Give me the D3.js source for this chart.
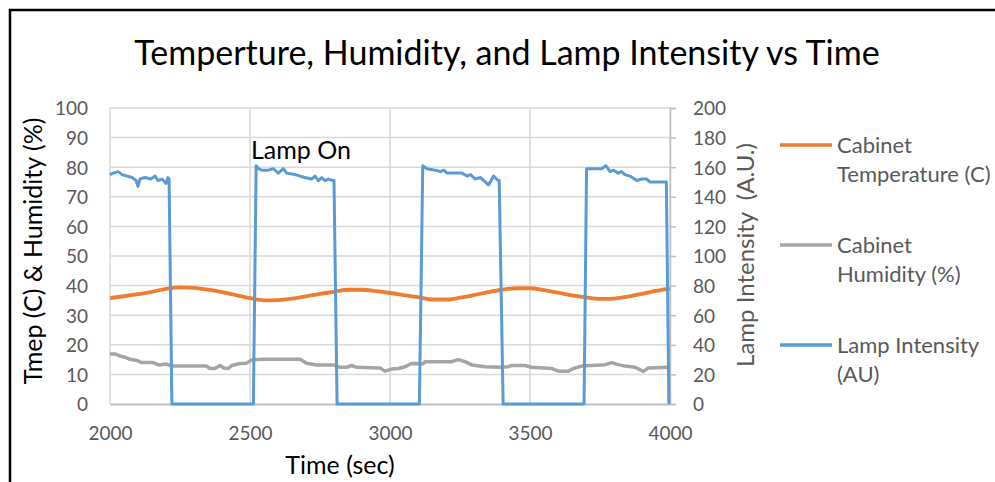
<!DOCTYPE html>
<html>
<head>
<meta charset="utf-8">
<style>
  body { margin: 0; background: #fff; }
  svg { font-family: Lato, "Open Sans", sans-serif; }
</style>
</head>
<body>
<svg width="995" height="482"></svg>
<script src="https://d3js.org/d3.v7.min.js"></script>
<script>

// Cabinet temperature (C), left axis
var tempTime = [2000,2050,2100,2150,2200,2250,2300,2350,2400,2450,2500,2550,2600,2650,2700,2750,2800,2850,2900,2950,
                3000,3050,3100,3150,3200,3250,3300,3350,3400,3450,3500,3550,3600,3650,3700,3750,3800,3850,3900,3950,4000];
var tempValues = [35.8,36.4,37.1,37.9,38.9,39.4,39.2,38.6,37.8,36.8,35.8,35.0,35.1,35.6,36.4,37.2,37.9,38.6,38.6,38.1,
                  37.5,36.8,36.1,35.3,35.3,35.9,36.8,37.8,38.6,39.1,39.1,38.5,37.6,36.7,36.0,35.5,35.6,36.3,37.2,38.2,39.1];

// Cabinet humidity (%), left axis
var humTime = [2000,2018,2036,2054,2071,2095,2113,2155,2173,2202,2220,2345,2357,2375,2393,2405,2423,2435,2464,2488,
               2506,2548,2679,2702,2738,2798,2821,2845,2863,2881,2964,2982,3006,3030,3054,3077,3119,3125,3220,3244,
               3268,3292,3339,3387,3423,3435,3482,3506,3577,3601,3637,3655,3685,3720,3768,3792,3815,3839,3875,3905,
               3923,4000];
var humValues = [16.9,16.9,16.2,15.8,15.1,14.7,14.0,14.0,13.2,13.5,12.8,12.8,12.0,12.0,13.0,12.2,12.0,13.0,13.7,13.8,
                 14.9,15.1,15.1,13.8,13.2,13.2,12.4,12.4,13.0,12.4,12.2,11.1,11.8,12.0,12.6,13.7,13.6,14.3,14.3,15.0,
                 14.3,13.2,12.6,12.4,12.6,13.0,13.0,12.4,12.0,11.1,11.1,12.0,12.8,13.0,13.3,14.0,13.3,12.8,12.4,11.0,
                 12.2,12.4];

// Lamp intensity (A.U.), right axis
var lampTime = [2000,2011,2029,2043,2061,2079,2093,2100,2107,2125,2146,2161,2171,2186,2200,2207,2211,2221,
                2512,2522,2530,2542,2565,2583,2601,2619,2631,2661,2696,2720,2732,2744,2756,2768,2780,2795,2800,2811,
                3105,3117,3132,3162,3180,3192,3204,3221,3257,3275,3287,3305,3323,3335,3352,3370,3386,3390,3404,
                3693,3702,3738,3756,3771,3786,3798,3815,3827,3839,3857,3881,3899,3917,3929,3952,3982,3987,3996];
var lampValues = [155,156,157,155,154,153,151,147,152,153,152,154,151,152,149,153,152,0,
                  0,161,159,158,158,159,156,159,156,155,153,152,154,151,153,151,152,151,151,0,
                  0,161,159,158,157,158,156,156,156,154,155,152,153,151,148,154,151,151,0,
                  0,159,159,159,161,157,158,156,157,155,154,151,152,152,150,150,150,150,0];

var xTicks = [2000,2500,3000,3500,4000];
var leftTicks = [0,10,20,30,40,50,60,70,80,90,100];
var rightTicks = [0,20,40,60,80,100,120,140,160,180,200];

var seriesNames = ["Cabinet|Temperature (C)", "Cabinet|Humidity (%)", "Lamp Intensity|(AU)"];
var seriesColors = ["#ed7d31", "#a5a5a5", "#5b9bd5"];

var svg = d3.select("svg");
var plotLeft = 110, plotRight = 670, plotTop = 108, plotBottom = 404;

var x = d3.scaleLinear().domain([2000, 4000]).range([plotLeft, plotRight]);
var yL = d3.scaleLinear().domain([0, 100]).range([plotBottom, plotTop]);
var yR = d3.scaleLinear().domain([0, 200]).range([plotBottom, plotTop]);

// frame
svg.append("rect")
    .attr("x", 10).attr("y", 10).attr("width", 1000).attr("height", 500)
    .attr("fill", "none").attr("stroke", "#000").attr("stroke-width", 2.5);

svg.append("text")
    .attr("x", 507).attr("y", 65)
    .attr("text-anchor", "middle")
    .attr("font-size", 34)
    .attr("fill", "#000")
    .text("Temperture, Humidity, and Lamp Intensity vs Time");

// gridlines
svg.append("g").selectAll("line")
    .data(leftTicks.slice(1))
    .enter().append("line")
      .attr("x1", plotLeft).attr("x2", plotRight)
      .attr("y1", function(d) { return yL(d); })
      .attr("y2", function(d) { return yL(d); })
      .attr("stroke", "#d9d9d9").attr("stroke-width", 1.5);

svg.append("g").selectAll("line")
    .data(xTicks)
    .enter().append("line")
      .attr("x1", function(d) { return x(d); })
      .attr("x2", function(d) { return x(d); })
      .attr("y1", plotTop).attr("y2", plotBottom)
      .attr("stroke", "#d9d9d9").attr("stroke-width", 1.5);

// axes
var bottomAxis = svg.append("g")
    .attr("transform", "translate(0," + plotBottom + ")")
    .call(d3.axisBottom(x).tickValues(xTicks).tickSize(0).tickPadding(23).tickFormat(d3.format("d")));
bottomAxis.select(".domain").attr("stroke", "#bfbfbf").attr("stroke-width", 2);

var leftAxis = svg.append("g")
    .attr("transform", "translate(" + plotLeft + ",0)")
    .call(d3.axisLeft(yL).tickValues(leftTicks).tickSize(0).tickPadding(22));
leftAxis.select(".domain").remove();

var rightAxis = svg.append("g")
    .attr("transform", "translate(" + plotRight + ",0)")
    .call(d3.axisRight(yR).tickValues(rightTicks).tickSize(6).tickPadding(17));
rightAxis.select(".domain").attr("stroke", "#bfbfbf").attr("stroke-width", 1.5);
rightAxis.selectAll(".tick line").attr("stroke", "#bfbfbf").attr("stroke-width", 1.5);

svg.selectAll(".tick text")
    .attr("font-size", 19)
    .attr("font-family", "Lato, sans-serif")
    .attr("fill", "#595959");
leftAxis.selectAll(".tick text").attr("dy", "0.36em");
rightAxis.selectAll(".tick text").attr("dy", "0.36em");

// axis titles
svg.append("text")
    .attr("transform", "translate(42,251) rotate(-90)")
    .attr("text-anchor", "middle")
    .attr("font-size", 25)
    .attr("fill", "#000")
    .text("Tmep (C) & Humidity (%)");

svg.append("text")
    .attr("transform", "translate(754,255) rotate(-90)")
    .attr("text-anchor", "middle")
    .attr("font-size", 24)
    .attr("fill", "#595959")
    .style("white-space", "pre")
    .text("Lamp Intensity  (A.U.)");

svg.append("text")
    .attr("x", 340).attr("y", 474)
    .attr("text-anchor", "middle")
    .attr("font-size", 25)
    .attr("fill", "#000")
    .text("Time (sec)");

// series
function pairs(t, v) { return t.map(function(d, i) { return [d, v[i]]; }); }

svg.append("path")
    .datum(pairs(tempTime, tempValues))
    .attr("fill", "none")
    .attr("stroke", seriesColors[0])
    .attr("stroke-width", 3.8)
    .attr("stroke-linejoin", "round")
    .attr("d", d3.line().curve(d3.curveMonotoneX)
        .x(function(d) { return x(d[0]); })
        .y(function(d) { return yL(d[1]); }));

svg.append("path")
    .datum(pairs(humTime, humValues))
    .attr("fill", "none")
    .attr("stroke", seriesColors[1])
    .attr("stroke-width", 3.5)
    .attr("stroke-linejoin", "round")
    .attr("d", d3.line()
        .x(function(d) { return x(d[0]); })
        .y(function(d) { return yL(d[1]); }));

svg.append("path")
    .datum(pairs(lampTime, lampValues))
    .attr("fill", "none")
    .attr("stroke", seriesColors[2])
    .attr("stroke-width", 3)
    .attr("stroke-linejoin", "round")
    .attr("d", d3.line()
        .x(function(d) { return x(d[0]); })
        .y(function(d) { return yR(d[1]); }));

// annotation
svg.append("text")
    .attr("x", 251).attr("y", 159)
    .attr("font-size", 25)
    .attr("fill", "#000")
    .text("Lamp On");

// legend
var legend = svg.append("g").selectAll("g")
    .data(seriesNames)
    .enter().append("g")
      .attr("transform", function(d, i) { return "translate(780," + (145 + i * 100) + ")"; });

legend.append("line")
    .attr("x1", 0).attr("x2", 52)
    .attr("stroke", function(d, i) { return seriesColors[i]; })
    .attr("stroke-width", 3.5);

legend.append("text")
    .attr("font-size", 22)
    .attr("fill", "#595959")
    .selectAll("tspan")
    .data(function(d) { return d.split("|"); })
    .enter().append("tspan")
      .attr("x", 57)
      .attr("y", function(d, i) { return 8 + i * 29; })
      .text(function(d) { return d; });

</script>
</body>
</html>
